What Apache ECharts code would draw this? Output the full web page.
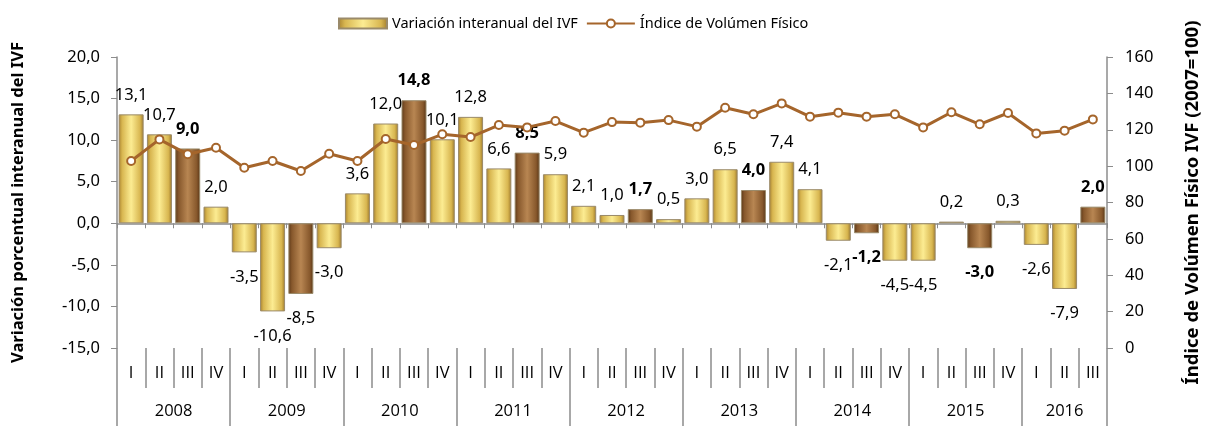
<!DOCTYPE html>
<html>
<head>
<meta charset="utf-8">
<script src="https://cdn.jsdelivr.net/npm/echarts@6/dist/echarts.min.js"></script>
<style>
html,body{margin:0;padding:0;background:#fff;}
#chart{width:1210px;height:426px;}
</style>
</head>
<body>
<div id="chart"></div>
<script>
// ---- DATA ----
const years = ['2008','2009','2010','2011','2012','2013','2014','2015','2016'];
const quarters = ['I','II','III','IV','I','II','III','IV','I','II','III','IV','I','II','III','IV','I','II','III','IV','I','II','III','IV','I','II','III','IV','I','II','III','IV','I','II','III'];
const variacion = [13.1,10.7,9.0,2.0, -3.5,-10.6,-8.5,-3.0, 3.6,12.0,14.8,10.1, 12.8,6.6,8.5,5.9, 2.1,1.0,1.7,0.5, 3.0,6.5,4.0,7.4, 4.1,-2.1,-1.2,-4.5, -4.5,0.2,-3.0,0.3, -2.6,-7.9,2.0];
const indice = [102.8,114.7,106.5,110.1, 99.1,102.8,97.3,106.8, 102.8,114.9,111.6,117.5, 116.0,122.6,121.3,124.8, 118.4,124.2,123.9,125.3, 121.7,132.1,128.5,134.5, 127.2,129.4,127.2,128.5, 121.3,129.6,123.0,129.2, 118.0,119.5,125.7];
const leftTicks = ['-15,0','-10,0','-5,0','0,0','5,0','10,0','15,0','20,0'];
const rightTicks = ['0','20','40','60','80','100','120','140','160'];
const seriesNames = ['Variación interanual del IVF','Índice de Volúmen Físico'];
const axisNames = ['Variación porcentual interanual del IVF','Índice de Volúmen Físico IVF (2007=100)'];

// ---- STYLE ----
const FONT = 'Noto Sans';
const XFONT = 'Open Sans';
const plainLabelIdx = [6];
const G = echarts.graphic;
const goldGrad = new G.LinearGradient(0,0,1,0,[
  {offset:0,color:'#a7812f'},{offset:0.14,color:'#d8b650'},{offset:0.5,color:'#fcec92'},{offset:0.86,color:'#d8b650'},{offset:1,color:'#9c782c'}]);
const brownGrad = new G.LinearGradient(0,0,1,0,[
  {offset:0,color:'#5a3718'},{offset:0.14,color:'#87582c'},{offset:0.5,color:'#b88652'},{offset:0.86,color:'#87582c'},{offset:1,color:'#563416'}]);
const fmt = v => v.toFixed(1).replace('.', ',');

// year-level axis built from quarters: half-quarter positions
const yearAxisData = [];
const yearBoundaries = new Set([0]);
(function(){
  let y = -1;
  const counts = [];
  quarters.forEach((qq)=>{ if(qq==='I'){ y++; counts[y]=0; } counts[y]++; });
  for(let k=0;k<=quarters.length*2;k++) yearAxisData.push('');
  let start = 0;
  counts.forEach((c,i)=>{
    yearAxisData[start*2 + c] = years[i];
    start += c;
    yearBoundaries.add(start*2);
  });
})();

const barData = variacion.map((v,i)=>{
  const dark = quarters[i]==='III';
  const bold = dark && plainLabelIdx.indexOf(i)<0;
  return {
    value: v,
    itemStyle: {color: dark ? brownGrad : goldGrad},
    label: {
      position: v>=0 ? 'top' : 'bottom',
      distance: v>=0 ? 11 : 16,
      fontWeight: bold ? 'bold' : 'normal'
    }
  };
});

const txt = (size, extra) => Object.assign({fontSize:size,color:'#000',fontFamily:FONT}, extra||{});

const chart = echarts.init(document.getElementById('chart'), null, {renderer:'canvas'});
chart.setOption({
  animation:false,
  textStyle:{fontFamily:FONT},
  legend:{
    top:11, left:333, itemGap:8,
    textStyle:txt(14.5),
    data:[
      {name:seriesNames[0], icon:'rect', itemStyle:{color:goldGrad}},
      {name:seriesNames[1]}
    ],
    itemWidth:48, itemHeight:10
  },
  grid:{left:117,right:100,top:57,bottom:78,containLabel:false},
  xAxis:[
    {type:'category', data:quarters, position:'bottom',
     axisLine:{onZero:true,onZeroAxisIndex:0,lineStyle:{color:'#8c8c8c',width:1.5}},
     axisTick:{show:true,length:5,lineStyle:{color:'#8c8c8c'}},
     axisLabel:{show:false}, splitLine:{show:false}},
    {type:'category', data:quarters, position:'bottom', offset:0,
     axisLine:{show:false,onZero:false},
     axisTick:{show:true,length:40,lineStyle:{color:'#8c8c8c',width:1.5}},
     axisLabel:{show:true,margin:17,interval:0,fontSize:16.5,fontFamily:XFONT,color:'#000'},
     splitLine:{show:false}},
    {type:'category', data:yearAxisData, position:'bottom', offset:0, boundaryGap:false,
     axisLine:{show:false,onZero:false},
     axisTick:{show:true,length:80,interval:(i)=>yearBoundaries.has(i),lineStyle:{color:'#8c8c8c',width:1.5}},
     axisLabel:{show:true,margin:55,interval:(i,v)=>v!=='',fontSize:16.5,fontFamily:XFONT,color:'#000'},
     splitLine:{show:false}}
  ],
  yAxis:[
    {type:'value', min:-15, max:20, interval:5, position:'left',
     name:axisNames[0], nameLocation:'middle', nameRotate:90, nameGap:90,
     nameTextStyle:txt(16.5,{fontWeight:'bold'}),
     axisLine:{show:true,lineStyle:{color:'#8c8c8c',width:1.5}},
     axisTick:{show:true,length:6,lineStyle:{color:'#8c8c8c'}},
     axisLabel:txt(16.5,{margin:17,formatter:(v)=>leftTicks[(v+15)/5]}),
     splitLine:{show:false}},
    {type:'value', min:0, max:160, interval:20, position:'right',
     name:axisNames[1], nameLocation:'middle', nameRotate:90, nameGap:76,
     nameTextStyle:txt(18.5,{fontWeight:'bold'}),
     axisLine:{show:true,lineStyle:{color:'#8c8c8c',width:1.5}},
     axisTick:{show:true,length:6,lineStyle:{color:'#8c8c8c'}},
     axisLabel:txt(16.5,{margin:18,formatter:(v)=>rightTicks[v/20]}),
     splitLine:{show:false}}
  ],
  series:[
    {name:seriesNames[0], type:'bar', xAxisIndex:0, yAxisIndex:0, barWidth:25,
     itemStyle:{color:goldGrad,borderColor:'#9a8a6a',borderWidth:1},
     label:txt(16.5,{show:true,formatter:(p)=>fmt(p.value)}),
     data:barData, z:2},
    {name:seriesNames[1], type:'line', xAxisIndex:0, yAxisIndex:1,
     symbol:'circle', symbolSize:8,
     lineStyle:{color:'#a5652b',width:3},
     itemStyle:{color:'#ffffff',borderColor:'#a5652b',borderWidth:2},
     data:indice, z:5}
  ]
});
</script>
</body>
</html>
